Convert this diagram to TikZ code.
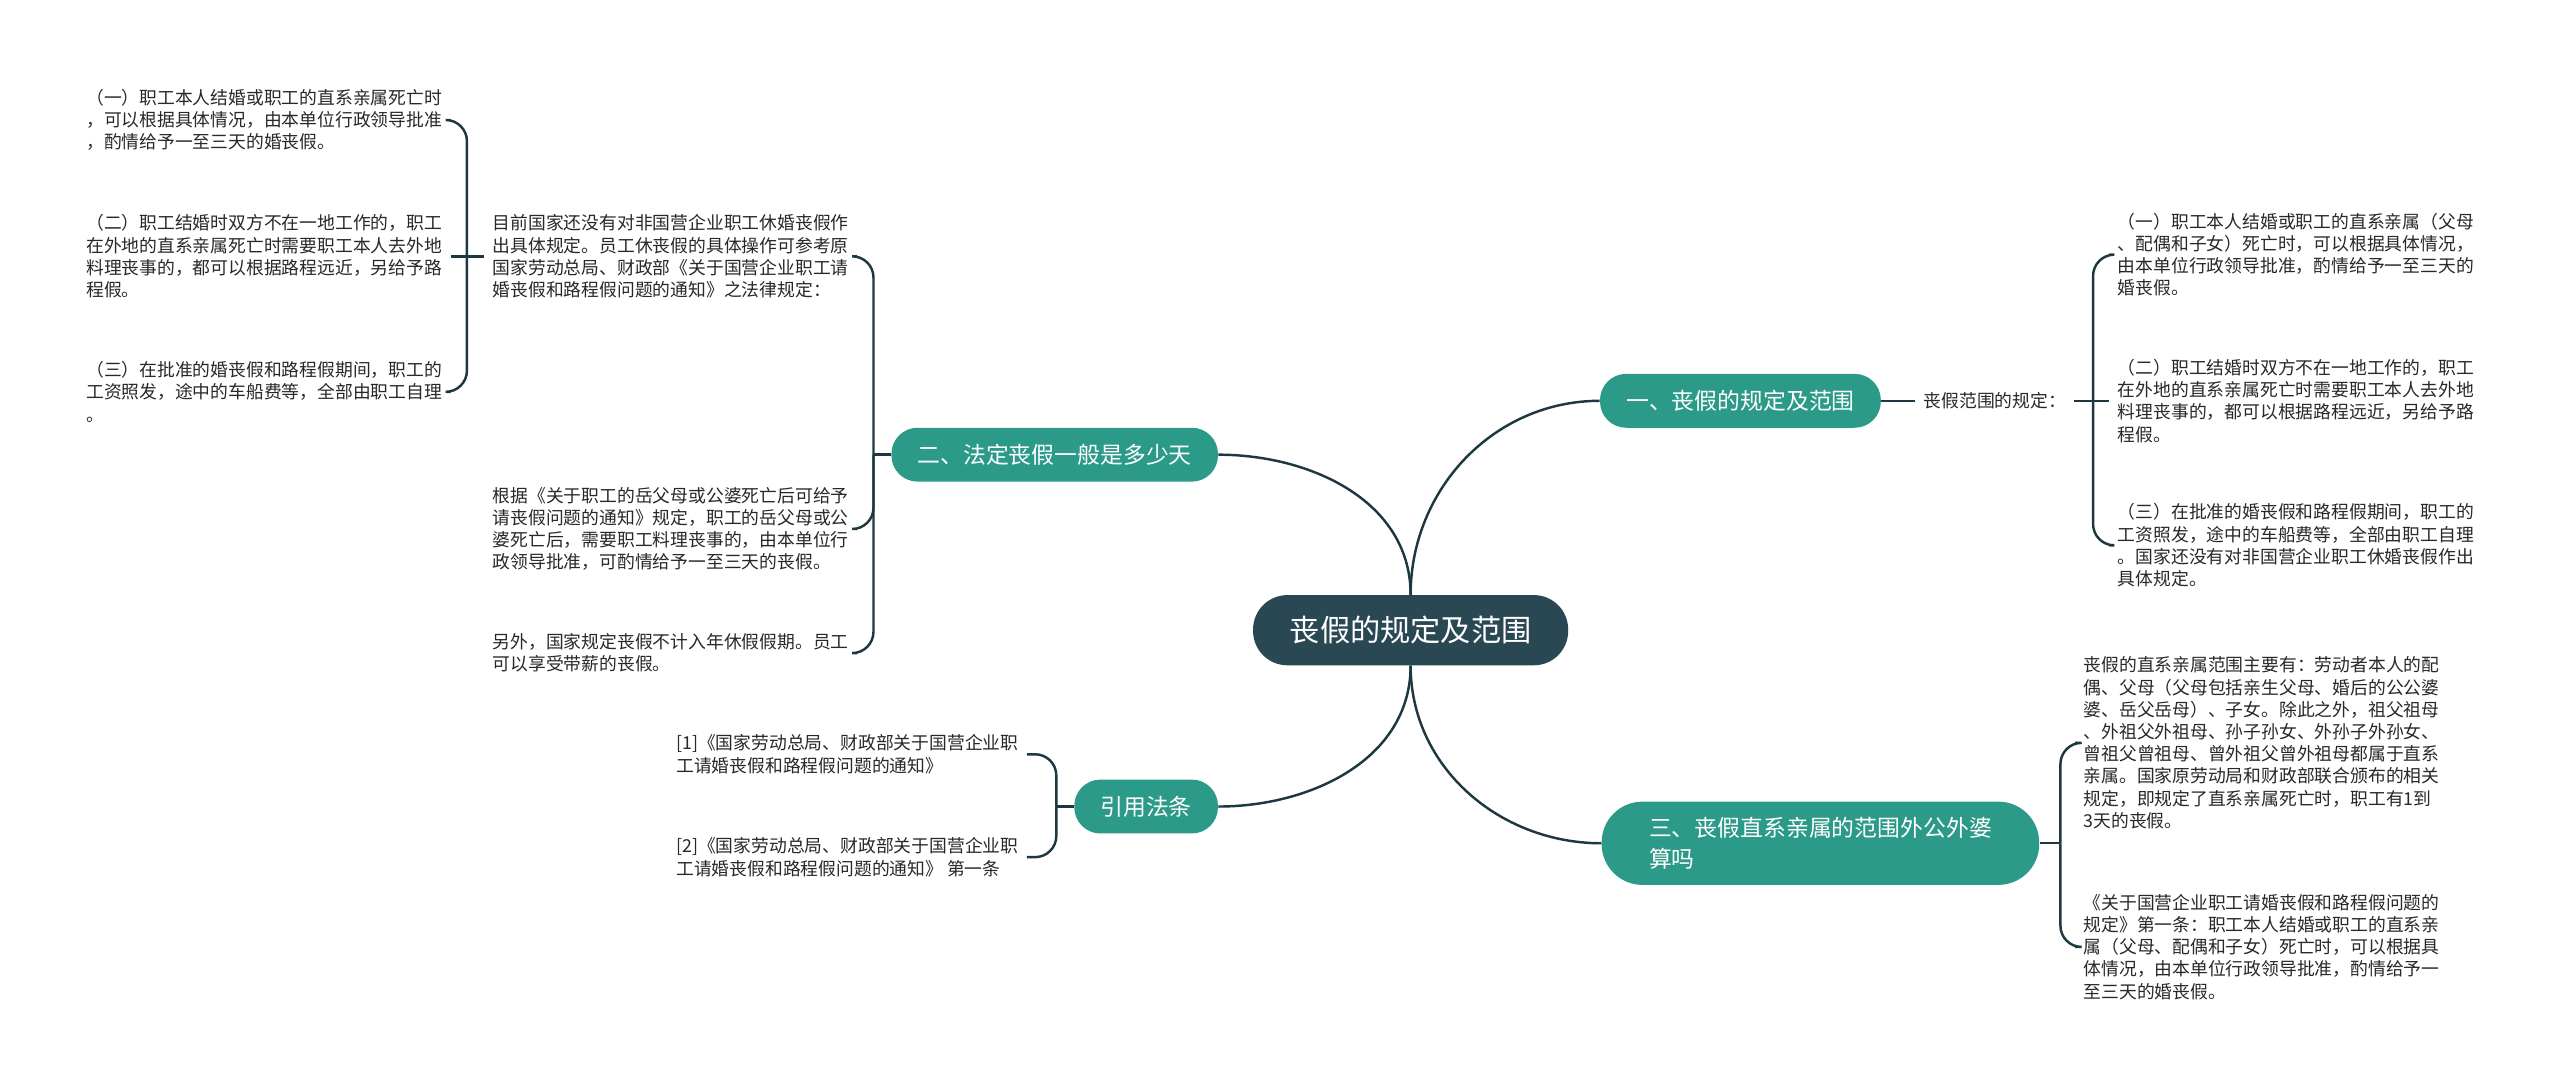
\documentclass[tikz,border=0pt]{standalone}
\usepackage{fontspec}
\setmainfont{Noto Sans CJK SC}

\definecolor{rootblue}{RGB}{41,72,84}
\definecolor{topicgreen}{RGB}{44,154,136}
\definecolor{linkcol}{RGB}{30,56,66}
\definecolor{leaftext}{RGB}{40,40,40}

\begin{document}
\begin{tikzpicture}[
    x=1pt, y=1pt,
    rootblock/.style={rectangle, fill=rootblue, text=white, minimum width=193pt, minimum height=43pt, rounded corners=21pt, font=\fontsize{18.5pt}{22pt}\selectfont},
    topicblock/.style={rectangle, fill=topicgreen, text=white, minimum height=33pt, rounded corners=16pt, font=\fontsize{14pt}{18.5pt}\selectfont},
    leaf/.style={inner xsep=5pt, inner ysep=0pt, align=left, text=leaftext, font=\fontsize{10.9pt}{13.6pt}\selectfont},
    linkline/.style={draw=linkcol, line width=1.5pt},
    bracelink/.style={linkline, rounded corners=13pt}
]
\useasboundingbox[fill=white] (0,0) rectangle (1568,667);

% Centre
\node[rootblock] (root) at (864,281) {丧假的规定及范围};

% Main topics
\node[topicblock, minimum width=172pt] (rule) at (1066,421.5) {一、丧假的规定及范围};
\node[topicblock, minimum width=200pt] (days) at (646,388.5) {二、法定丧假一般是多少天};
\node[topicblock, minimum width=268pt, minimum height=51pt, align=left, rounded corners=25pt] (kin) at (1115,150.5) {三、丧假直系亲属的范围外公外婆\\算吗};
\node[topicblock, minimum width=88pt] (law) at (702,173) {引用法条};

% Right top: rules
\node[leaf, anchor=west] (scope) at (1173,421.5) {丧假范围的规定：};
\node[leaf, anchor=west] (r1) at (1292,511) {（一）职工本人结婚或职工的直系亲属（父母\\、配偶和子女）死亡时，可以根据具体情况，\\由本单位行政领导批准，酌情给予一至三天的\\婚丧假。};
\node[leaf, anchor=west] (r2) at (1292,421.5) {（二）职工结婚时双方不在一地工作的，职工\\在外地的直系亲属死亡时需要职工本人去外地\\料理丧事的，都可以根据路程远近，另给予路\\程假。};
\node[leaf, anchor=west] (r3) at (1292,333) {（三）在批准的婚丧假和路程假期间，职工的\\工资照发，途中的车船费等，全部由职工自理\\。国家还没有对非国营企业职工休婚丧假作出\\具体规定。};

% Right bottom: relatives
\node[leaf, anchor=west] (r4) at (1271,212) {丧假的直系亲属范围主要有：劳动者本人的配\\偶、父母（父母包括亲生父母、婚后的公公婆\\婆、岳父岳母）、子女。除此之外，祖父祖母\\、外祖父外祖母、孙子孙女、外孙子外孙女、\\曾祖父曾祖母、曾外祖父曾外祖母都属于直系\\亲属。国家原劳动局和财政部联合颁布的相关\\规定，即规定了直系亲属死亡时，职工有1到\\3天的丧假。};
\node[leaf, anchor=west] (r5) at (1271,87) {《关于国营企业职工请婚丧假和路程假问题的\\规定》第一条：职工本人结婚或职工的直系亲\\属（父母、配偶和子女）死亡时，可以根据具\\体情况，由本单位行政领导批准，酌情给予一\\至三天的婚丧假。};

% Left top: days
\node[leaf, anchor=east] (l1) at (525,510) {目前国家还没有对非国营企业职工休婚丧假作\\出具体规定。员工休丧假的具体操作可参考原\\国家劳动总局、财政部《关于国营企业职工请\\婚丧假和路程假问题的通知》之法律规定：};
\node[leaf, anchor=east] (l2) at (525,343) {根据《关于职工的岳父母或公婆死亡后可给予\\请丧假问题的通知》规定，职工的岳父母或公\\婆死亡后，需要职工料理丧事的，由本单位行\\政领导批准，可酌情给予一至三天的丧假。};
\node[leaf, anchor=east] (l3) at (525,267) {另外，国家规定丧假不计入年休假假期。员工\\可以享受带薪的丧假。};

\node[leaf, anchor=east] (ll1) at (276,593.5) {（一）职工本人结婚或职工的直系亲属死亡时\\，可以根据具体情况，由本单位行政领导批准\\，酌情给予一至三天的婚丧假。};
\node[leaf, anchor=east] (ll2) at (276,510) {（二）职工结婚时双方不在一地工作的，职工\\在外地的直系亲属死亡时需要职工本人去外地\\料理丧事的，都可以根据路程远近，另给予路\\程假。};
\node[leaf, anchor=east] (ll3) at (276,427) {（三）在批准的婚丧假和路程假期间，职工的\\工资照发，途中的车船费等，全部由职工自理\\。};

% Left bottom: law
\node[leaf, anchor=west] (ref1) at (409,205) {[1]《国家劳动总局、财政部关于国营企业职\\工请婚丧假和路程假问题的通知》};
\node[leaf, anchor=west] (ref2) at (409,142) {[2]《国家劳动总局、财政部关于国营企业职\\工请婚丧假和路程假问题的通知》 第一条};

% Junctions
\coordinate (j1) at (1282,421.5);
\coordinate (j2) at (535,388.5);
\coordinate (jl) at (286,510);
\coordinate (j3) at (1262,150.5);
\coordinate (j4) at (647,173);

% Root links
\draw[linkline] (root.north) to[out=90, in=180] (rule.west);
\draw[linkline] (root.north) to[out=90, in=0] (days.east);
\draw[linkline] (root.south) to[out=-90, in=180] (kin.west);
\draw[linkline] (root.south) to[out=-90, in=0] (law.east);

% Braces
\draw[linkline] (rule.east) -- (scope.west);
\draw[linkline] (scope.east) -- (j1);
\draw[bracelink] (j1) |- (r1.west);
\draw[linkline] (j1) -- (r2.west);
\draw[bracelink] (j1) |- (r3.west);

\draw[linkline] (kin.east) -- (j3);
\draw[bracelink] (j3) |- (r4.west);
\draw[bracelink] (j3) |- (r5.west);

\draw[linkline] (days.west) -- (j2);
\draw[bracelink] (j2) |- (l1.east);
\draw[bracelink] (j2) |- (l2.east);
\draw[bracelink] (j2) |- (l3.east);

\draw[linkline] (l1.west) -- (jl);
\draw[bracelink] (jl) |- (ll1.east);
\draw[linkline] (jl) -- (ll2.east);
\draw[bracelink] (jl) |- (ll3.east);

\draw[linkline] (law.west) -- (j4);
\draw[bracelink] (j4) |- (ref1.east);
\draw[bracelink] (j4) |- (ref2.east);

\end{tikzpicture}
\end{document}
